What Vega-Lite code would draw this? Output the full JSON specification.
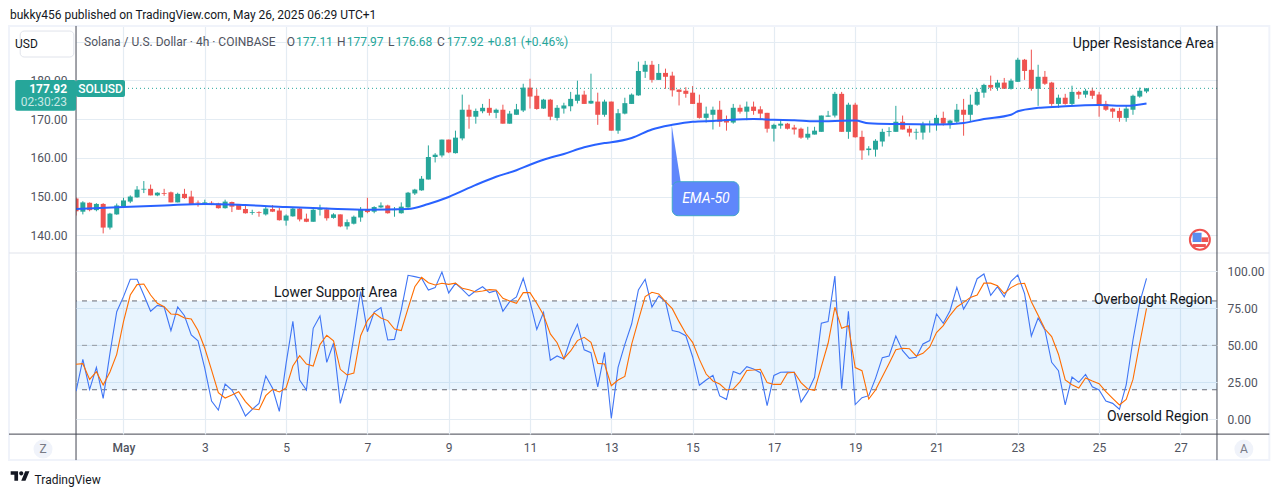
{
  "$schema": "https://vega.github.io/schema/vega-lite/v6.json",
  "description": "SOLUSD 4h candles with EMA-50 and Stochastic RSI, TradingView style",
  "padding": {"left": 8, "top": 8, "right": 10, "bottom": 8},
  "background": "white",
  "config": {
    "font": "Roboto",
    "view": {"stroke": null},
    "axis": {"title": null, "gridColor": "#e4ecf3", "gridWidth": 1.2, "labelColor": "#50535e", "labelFont": "Roboto", "labelFontSize": 12}
  },
  "datasets": {
    "bars": [
      {"t":"2025-04-29T20:00Z","o":149.5,"h":149.8,"l":145.1,"c":146.2,"k":19,"d":37.2},
      {"t":"2025-04-30T00:00Z","o":146.1,"h":148.8,"l":145.4,"c":148.5,"k":40.5,"d":37.6},
      {"t":"2025-04-30T04:00Z","o":148.4,"h":148.5,"l":146.2,"c":146.5,"k":20.3,"d":27},
      {"t":"2025-04-30T08:00Z","o":146.5,"h":148.3,"l":146.2,"c":148.1,"k":35.1,"d":32.2},
      {"t":"2025-04-30T12:00Z","o":148.1,"h":148.3,"l":140.5,"c":142,"k":14.2,"d":23.2},
      {"t":"2025-04-30T16:00Z","o":142,"h":145.8,"l":141.5,"c":145.6,"k":44.6,"d":32},
      {"t":"2025-04-30T20:00Z","o":145.4,"h":148.2,"l":145.3,"c":147.7,"k":72.7,"d":43.9},
      {"t":"2025-05-01T00:00Z","o":147.5,"h":149.7,"l":147.4,"c":149,"k":82.9,"d":66},
      {"t":"2025-05-01T04:00Z","o":148.7,"h":150.3,"l":148.3,"c":150,"k":94.6,"d":84},
      {"t":"2025-05-01T08:00Z","o":149.8,"h":152.7,"l":149.7,"c":151.8,"k":94.6,"d":91},
      {"t":"2025-05-01T12:00Z","o":151.8,"h":154,"l":150.9,"c":152,"k":84,"d":91.4},
      {"t":"2025-05-01T16:00Z","o":152,"h":153.1,"l":150.3,"c":150.3,"k":73,"d":84},
      {"t":"2025-05-01T20:00Z","o":150.3,"h":151.1,"l":150.1,"c":151,"k":77,"d":78.4},
      {"t":"2025-05-02T00:00Z","o":150.9,"h":152,"l":150.2,"c":150.7,"k":75.9,"d":76.1},
      {"t":"2025-05-02T04:00Z","o":151.1,"h":151.3,"l":148.5,"c":148.5,"k":59.9,"d":71.2},
      {"t":"2025-05-02T08:00Z","o":148.5,"h":151,"l":148.5,"c":150.7,"k":76,"d":70.9},
      {"t":"2025-05-02T12:00Z","o":150.7,"h":152,"l":149.4,"c":149.6,"k":70,"d":68.5},
      {"t":"2025-05-02T16:00Z","o":150,"h":151.5,"l":147.9,"c":147.9,"k":57,"d":67.8},
      {"t":"2025-05-02T20:00Z","o":148.5,"h":149,"l":147.4,"c":148.4,"k":53,"d":60},
      {"t":"2025-05-03T00:00Z","o":148.2,"h":149.2,"l":147.8,"c":148.5,"k":34.5,"d":48},
      {"t":"2025-05-03T04:00Z","o":148.4,"h":148.8,"l":147.8,"c":148.3,"k":12.4,"d":33.3},
      {"t":"2025-05-03T08:00Z","o":148.2,"h":148.4,"l":146.9,"c":147,"k":6.3,"d":18},
      {"t":"2025-05-03T12:00Z","o":147,"h":149.2,"l":146.9,"c":148.7,"k":23.9,"d":14.4},
      {"t":"2025-05-03T16:00Z","o":148.6,"h":148.7,"l":146,"c":147.4,"k":19.8,"d":16.4},
      {"t":"2025-05-03T20:00Z","o":147.9,"h":148,"l":146.6,"c":146.6,"k":12,"d":18.7},
      {"t":"2025-05-04T00:00Z","o":146.8,"h":147.7,"l":145.6,"c":145.7,"k":2.3,"d":12},
      {"t":"2025-05-04T04:00Z","o":145.8,"h":146.6,"l":145.3,"c":146,"k":6.8,"d":7.2},
      {"t":"2025-05-04T08:00Z","o":146,"h":146.2,"l":144.8,"c":145.8,"k":10.8,"d":6.5},
      {"t":"2025-05-04T12:00Z","o":145.4,"h":147.5,"l":145.1,"c":146.9,"k":29.3,"d":16},
      {"t":"2025-05-04T16:00Z","o":146.8,"h":147.8,"l":146,"c":146.1,"k":21,"d":20.3},
      {"t":"2025-05-04T20:00Z","o":146.4,"h":147.1,"l":143.8,"c":143.9,"k":5.4,"d":18.5},
      {"t":"2025-05-05T00:00Z","o":143.8,"h":145.4,"l":142.5,"c":145.1,"k":37.8,"d":21.2},
      {"t":"2025-05-05T04:00Z","o":144.9,"h":147.3,"l":144.8,"c":146.9,"k":66.2,"d":36},
      {"t":"2025-05-05T08:00Z","o":146.9,"h":147.2,"l":143.6,"c":144.1,"k":26.6,"d":43},
      {"t":"2025-05-05T12:00Z","o":144.3,"h":145.6,"l":143.4,"c":143.5,"k":19.8,"d":37.4},
      {"t":"2025-05-05T16:00Z","o":143.5,"h":146.8,"l":143.5,"c":146.6,"k":61.5,"d":36},
      {"t":"2025-05-05T20:00Z","o":146.6,"h":147.9,"l":145.1,"c":146.8,"k":69.8,"d":50.5},
      {"t":"2025-05-06T00:00Z","o":146.7,"h":147.1,"l":143.8,"c":144.4,"k":38.5,"d":56.8},
      {"t":"2025-05-06T04:00Z","o":144.5,"h":145.7,"l":144.3,"c":145.4,"k":51.4,"d":53},
      {"t":"2025-05-06T08:00Z","o":145.4,"h":145.4,"l":142.1,"c":142.3,"k":10.8,"d":33.8},
      {"t":"2025-05-06T12:00Z","o":142.3,"h":144.1,"l":141.5,"c":143.4,"k":27.7,"d":30},
      {"t":"2025-05-06T16:00Z","o":143,"h":145.1,"l":142.8,"c":144.8,"k":55.9,"d":31.3},
      {"t":"2025-05-06T20:00Z","o":144.6,"h":147.3,"l":143.5,"c":146.8,"k":86.3,"d":56.5},
      {"t":"2025-05-07T00:00Z","o":146.8,"h":149.7,"l":145.7,"c":146,"k":59.2,"d":66.7},
      {"t":"2025-05-07T04:00Z","o":146.1,"h":147.5,"l":145.7,"c":147.3,"k":72.5,"d":71.8},
      {"t":"2025-05-07T08:00Z","o":147.2,"h":148.5,"l":147,"c":147.7,"k":75.5,"d":68.5},
      {"t":"2025-05-07T12:00Z","o":147.7,"h":147.9,"l":145.6,"c":145.7,"k":53.6,"d":66.7},
      {"t":"2025-05-07T16:00Z","o":146.5,"h":147.3,"l":144.8,"c":146.7,"k":54,"d":61},
      {"t":"2025-05-07T20:00Z","o":145.7,"h":148.5,"l":145.6,"c":147.4,"k":73.9,"d":60},
      {"t":"2025-05-08T00:00Z","o":147.2,"h":151.2,"l":147.1,"c":151,"k":97.3,"d":75},
      {"t":"2025-05-08T04:00Z","o":150.8,"h":152,"l":150.4,"c":151.8,"k":96.4,"d":89.6},
      {"t":"2025-05-08T08:00Z","o":151.6,"h":155.3,"l":151.5,"c":154.6,"k":95.3,"d":95.9},
      {"t":"2025-05-08T12:00Z","o":154.4,"h":163.2,"l":154.4,"c":160.2,"k":87.4,"d":92.3},
      {"t":"2025-05-08T16:00Z","o":160.2,"h":161.2,"l":158.8,"c":160.8,"k":89,"d":90.8},
      {"t":"2025-05-08T20:00Z","o":160.6,"h":164.7,"l":160.1,"c":164.7,"k":99.5,"d":91.9},
      {"t":"2025-05-09T00:00Z","o":164.7,"h":164.7,"l":161.2,"c":161.4,"k":85.4,"d":91.2},
      {"t":"2025-05-09T04:00Z","o":161.2,"h":167,"l":161.1,"c":165.2,"k":91.9,"d":92},
      {"t":"2025-05-09T08:00Z","o":165,"h":176.3,"l":164.5,"c":172.4,"k":87.8,"d":88.5},
      {"t":"2025-05-09T12:00Z","o":172.4,"h":173.7,"l":167.5,"c":170.6,"k":83.3,"d":87.6},
      {"t":"2025-05-09T16:00Z","o":170.6,"h":172.7,"l":168.8,"c":172.1,"k":86.9,"d":86},
      {"t":"2025-05-09T20:00Z","o":172,"h":173.9,"l":171.5,"c":172.9,"k":89.6,"d":86.7},
      {"t":"2025-05-10T00:00Z","o":172.9,"h":175.2,"l":170.9,"c":171.6,"k":85.6,"d":87.6},
      {"t":"2025-05-10T04:00Z","o":171.6,"h":172.7,"l":170.2,"c":172.4,"k":86.9,"d":87.4},
      {"t":"2025-05-10T08:00Z","o":172.4,"h":173.7,"l":168.8,"c":168.8,"k":73,"d":81.8},
      {"t":"2025-05-10T12:00Z","o":168.8,"h":172.1,"l":168.8,"c":171.4,"k":79.5,"d":79.9},
      {"t":"2025-05-10T16:00Z","o":171.1,"h":173.9,"l":171.1,"c":172.5,"k":82.7,"d":78.4},
      {"t":"2025-05-10T20:00Z","o":172.2,"h":179.1,"l":171.8,"c":178.1,"k":95.3,"d":85.6},
      {"t":"2025-05-11T00:00Z","o":178.1,"h":180.4,"l":172.7,"c":175.8,"k":79.5,"d":85.6},
      {"t":"2025-05-11T04:00Z","o":176,"h":177.7,"l":172.4,"c":172.6,"k":60.8,"d":78.4},
      {"t":"2025-05-11T08:00Z","o":172.7,"h":175.2,"l":172.6,"c":175,"k":72.3,"d":70.5},
      {"t":"2025-05-11T12:00Z","o":175,"h":175.2,"l":169.7,"c":170.6,"k":39.9,"d":57.7},
      {"t":"2025-05-11T16:00Z","o":170.3,"h":173.6,"l":169.6,"c":172.9,"k":42.8,"d":51.8},
      {"t":"2025-05-11T20:00Z","o":172.7,"h":174.2,"l":171.4,"c":173.5,"k":40.8,"d":41},
      {"t":"2025-05-12T00:00Z","o":173.3,"h":177,"l":172,"c":175.2,"k":54.3,"d":46.2},
      {"t":"2025-05-12T04:00Z","o":174.7,"h":179.9,"l":174,"c":176.3,"k":64.2,"d":53.2},
      {"t":"2025-05-12T08:00Z","o":176.3,"h":177.3,"l":173.9,"c":173.9,"k":47,"d":55.4},
      {"t":"2025-05-12T12:00Z","o":174,"h":181.7,"l":173.9,"c":174.7,"k":45,"d":52},
      {"t":"2025-05-12T16:00Z","o":174.5,"h":176.8,"l":168.5,"c":171.1,"k":22,"d":37.8},
      {"t":"2025-05-12T20:00Z","o":171.1,"h":175,"l":170.6,"c":174.5,"k":45.3,"d":37.4},
      {"t":"2025-05-13T00:00Z","o":174.5,"h":174.5,"l":167,"c":167,"k":0.7,"d":22.7},
      {"t":"2025-05-13T04:00Z","o":167,"h":172.6,"l":166.2,"c":171.5,"k":35.1,"d":26.6},
      {"t":"2025-05-13T08:00Z","o":171.4,"h":175.5,"l":171.2,"c":174.1,"k":50.7,"d":29},
      {"t":"2025-05-13T12:00Z","o":173.9,"h":176.6,"l":173.9,"c":176.3,"k":64.4,"d":50.7},
      {"t":"2025-05-13T16:00Z","o":176.1,"h":184.8,"l":176,"c":182.4,"k":87.4,"d":67},
      {"t":"2025-05-13T20:00Z","o":182.2,"h":185,"l":180.6,"c":184,"k":94.6,"d":82.9},
      {"t":"2025-05-14T00:00Z","o":184,"h":185,"l":179.4,"c":180.1,"k":75.9,"d":85.8},
      {"t":"2025-05-14T04:00Z","o":180.1,"h":184.2,"l":180.1,"c":181.9,"k":83.3,"d":84.7},
      {"t":"2025-05-14T08:00Z","o":181.9,"h":183,"l":177.8,"c":180.9,"k":79.5,"d":79.5},
      {"t":"2025-05-14T12:00Z","o":181.2,"h":182.2,"l":175.8,"c":177.4,"k":60,"d":74.8},
      {"t":"2025-05-14T16:00Z","o":177.6,"h":177.6,"l":173.5,"c":177,"k":59,"d":66},
      {"t":"2025-05-14T20:00Z","o":177.3,"h":178.2,"l":175.5,"c":176.5,"k":56.5,"d":58},
      {"t":"2025-05-15T00:00Z","o":176.8,"h":178.5,"l":173.9,"c":173.9,"k":42.3,"d":52},
      {"t":"2025-05-15T04:00Z","o":174.2,"h":176.3,"l":170.1,"c":170.3,"k":23,"d":40.5},
      {"t":"2025-05-15T08:00Z","o":170.3,"h":173.2,"l":169.1,"c":171.4,"k":26.6,"d":30.6},
      {"t":"2025-05-15T12:00Z","o":171.1,"h":173.2,"l":167.3,"c":172.4,"k":29.7,"d":25.9},
      {"t":"2025-05-15T16:00Z","o":172.4,"h":174.7,"l":168,"c":169.3,"k":15.8,"d":23.9},
      {"t":"2025-05-15T20:00Z","o":170,"h":170.9,"l":167,"c":169.1,"k":13.5,"d":19.8},
      {"t":"2025-05-16T00:00Z","o":169.1,"h":173.9,"l":168.8,"c":172.9,"k":32.4,"d":20.5},
      {"t":"2025-05-16T04:00Z","o":172.9,"h":173.7,"l":171.4,"c":171.9,"k":30.6,"d":25.5},
      {"t":"2025-05-16T08:00Z","o":171.9,"h":174.5,"l":169.7,"c":173.2,"k":35.6,"d":33},
      {"t":"2025-05-16T12:00Z","o":173.2,"h":174.5,"l":171.1,"c":172.1,"k":34,"d":33.3},
      {"t":"2025-05-16T16:00Z","o":172.5,"h":173.3,"l":170.1,"c":171.4,"k":31.5,"d":33.8},
      {"t":"2025-05-16T20:00Z","o":171.6,"h":171.6,"l":166.5,"c":167.5,"k":9.2,"d":24.8},
      {"t":"2025-05-17T00:00Z","o":167.5,"h":168.8,"l":164.2,"c":168.5,"k":29.7,"d":23.6},
      {"t":"2025-05-17T04:00Z","o":168.3,"h":170,"l":167.5,"c":168.8,"k":31.8,"d":23.6},
      {"t":"2025-05-17T08:00Z","o":168.8,"h":169,"l":167.3,"c":167.5,"k":32,"d":31.3},
      {"t":"2025-05-17T12:00Z","o":167.8,"h":168.5,"l":166,"c":167.3,"k":31.8,"d":31.8},
      {"t":"2025-05-17T16:00Z","o":167.5,"h":167.8,"l":164.9,"c":165.2,"k":11.7,"d":24.8},
      {"t":"2025-05-17T20:00Z","o":165.2,"h":168,"l":164.7,"c":166.2,"k":18.7,"d":20.5},
      {"t":"2025-05-18T00:00Z","o":166,"h":168,"l":166,"c":167,"k":28.4,"d":19.6},
      {"t":"2025-05-18T04:00Z","o":166.7,"h":170.9,"l":166.7,"c":170.9,"k":65,"d":35.6},
      {"t":"2025-05-18T08:00Z","o":170.6,"h":172.1,"l":170.6,"c":170.9,"k":66,"d":51.4},
      {"t":"2025-05-18T12:00Z","o":170.9,"h":177,"l":170.4,"c":176.5,"k":96.8,"d":75.7},
      {"t":"2025-05-18T16:00Z","o":176.5,"h":177,"l":166.7,"c":166.7,"k":20.7,"d":61.5},
      {"t":"2025-05-18T20:00Z","o":166.7,"h":174.2,"l":164.9,"c":173.7,"k":73,"d":63.3},
      {"t":"2025-05-19T00:00Z","o":173.7,"h":174.2,"l":165.2,"c":165.3,"k":10,"d":35},
      {"t":"2025-05-19T04:00Z","o":165.4,"h":167,"l":159.5,"c":161.9,"k":14.6,"d":32.9},
      {"t":"2025-05-19T08:00Z","o":162,"h":163,"l":160.6,"c":162.4,"k":16,"d":13.7},
      {"t":"2025-05-19T12:00Z","o":162.1,"h":164.8,"l":160.3,"c":164.4,"k":27.7,"d":19.8},
      {"t":"2025-05-19T16:00Z","o":164.2,"h":167.5,"l":162.9,"c":166.7,"k":41.7,"d":28.8},
      {"t":"2025-05-19T20:00Z","o":166.7,"h":167.9,"l":165.5,"c":166.9,"k":42.8,"d":37.8},
      {"t":"2025-05-20T00:00Z","o":166.7,"h":173.4,"l":166.7,"c":169.3,"k":56.3,"d":47},
      {"t":"2025-05-20T04:00Z","o":169.3,"h":170.9,"l":167.3,"c":167.3,"k":46.4,"d":48},
      {"t":"2025-05-20T08:00Z","o":167.5,"h":168.3,"l":165.5,"c":166.5,"k":41.2,"d":47.7},
      {"t":"2025-05-20T12:00Z","o":166.5,"h":167.5,"l":164.7,"c":166.7,"k":41.9,"d":42.8},
      {"t":"2025-05-20T16:00Z","o":166.5,"h":169.3,"l":164.7,"c":168.5,"k":50.9,"d":44.6},
      {"t":"2025-05-20T20:00Z","o":168.5,"h":169.6,"l":166.5,"c":168.7,"k":53.2,"d":48.9},
      {"t":"2025-05-21T00:00Z","o":168.5,"h":171.1,"l":167,"c":170.3,"k":71.2,"d":58.6},
      {"t":"2025-05-21T04:00Z","o":170.3,"h":171.9,"l":168.3,"c":168.8,"k":64.9,"d":63.3},
      {"t":"2025-05-21T08:00Z","o":168.7,"h":169.8,"l":167.5,"c":169.6,"k":73.4,"d":70.3},
      {"t":"2025-05-21T12:00Z","o":169.3,"h":173.9,"l":168.8,"c":172.4,"k":89.2,"d":75.9},
      {"t":"2025-05-21T16:00Z","o":172.4,"h":175.2,"l":165.7,"c":171.1,"k":74.5,"d":79},
      {"t":"2025-05-21T20:00Z","o":171.1,"h":176.3,"l":169.3,"c":173.7,"k":82.2,"d":82.4},
      {"t":"2025-05-22T00:00Z","o":173.7,"h":177.8,"l":173.4,"c":177,"k":95,"d":84},
      {"t":"2025-05-22T04:00Z","o":176.8,"h":179.1,"l":175.5,"c":178.8,"k":98.2,"d":92},
      {"t":"2025-05-22T08:00Z","o":178.8,"h":181.2,"l":177.3,"c":178.1,"k":83.8,"d":92},
      {"t":"2025-05-22T12:00Z","o":178.1,"h":180.1,"l":177.3,"c":179.4,"k":89.6,"d":90.3},
      {"t":"2025-05-22T16:00Z","o":179.4,"h":180.6,"l":177.8,"c":177.8,"k":82.7,"d":85},
      {"t":"2025-05-22T20:00Z","o":177.8,"h":180.4,"l":177.6,"c":179.9,"k":93.2,"d":89},
      {"t":"2025-05-23T00:00Z","o":179.6,"h":185.8,"l":179.6,"c":185.3,"k":97.5,"d":91.4},
      {"t":"2025-05-23T04:00Z","o":185.3,"h":185.5,"l":180.1,"c":182.4,"k":85,"d":91.9},
      {"t":"2025-05-23T08:00Z","o":182.7,"h":187.9,"l":177.3,"c":177.8,"k":56.3,"d":79.5},
      {"t":"2025-05-23T12:00Z","o":177.8,"h":184,"l":173.4,"c":180.9,"k":68.5,"d":70.3},
      {"t":"2025-05-23T16:00Z","o":180.9,"h":182.4,"l":178.8,"c":179.1,"k":60.4,"d":61},
      {"t":"2025-05-23T20:00Z","o":179.4,"h":179.6,"l":173.4,"c":173.9,"k":38.5,"d":55.9},
      {"t":"2025-05-24T00:00Z","o":173.9,"h":176.3,"l":172.9,"c":175.5,"k":32.9,"d":44},
      {"t":"2025-05-24T04:00Z","o":175.5,"h":176.5,"l":173.7,"c":173.9,"k":9.7,"d":26.6},
      {"t":"2025-05-24T08:00Z","o":173.9,"h":178.6,"l":173.4,"c":177,"k":28.6,"d":23.4},
      {"t":"2025-05-24T12:00Z","o":177,"h":177.3,"l":175.2,"c":176.3,"k":25,"d":21.2},
      {"t":"2025-05-24T16:00Z","o":176.3,"h":177.8,"l":175.5,"c":177.3,"k":30.4,"d":27.9},
      {"t":"2025-05-24T20:00Z","o":177.3,"h":178.1,"l":175.2,"c":176,"k":22,"d":25.9},
      {"t":"2025-05-25T00:00Z","o":176.3,"h":177,"l":170.6,"c":173.7,"k":19.8,"d":24.1},
      {"t":"2025-05-25T04:00Z","o":173.9,"h":174.7,"l":172.1,"c":172.4,"k":12.4,"d":18.7},
      {"t":"2025-05-25T08:00Z","o":172.7,"h":172.9,"l":170.3,"c":171.9,"k":10.8,"d":14.2},
      {"t":"2025-05-25T12:00Z","o":172.1,"h":172.9,"l":169.3,"c":170.3,"k":6.8,"d":9.7},
      {"t":"2025-05-25T16:00Z","o":170.3,"h":173.4,"l":169.3,"c":172.7,"k":23.2,"d":13.5},
      {"t":"2025-05-25T20:00Z","o":172.4,"h":176.3,"l":171.1,"c":176,"k":53.6,"d":27},
      {"t":"2025-05-26T00:00Z","o":175.8,"h":178.1,"l":175.5,"c":177.3,"k":79,"d":51.4},
      {"t":"2025-05-26T04:00Z","o":177.11,"h":177.97,"l":176.68,"c":177.92,"k":95.3,"d":75}
    ],
    "ema": [
      {"t":"2025-04-29T20:00Z","v":146.8},{"t":"2025-05-01T00:00Z","v":147.3},{"t":"2025-05-02T00:00Z","v":147.7},
      {"t":"2025-05-03T00:00Z","v":148.1},{"t":"2025-05-04T00:00Z","v":147.8},{"t":"2025-05-05T00:00Z","v":147.3},
      {"t":"2025-05-06T00:00Z","v":146.9},{"t":"2025-05-07T00:00Z","v":146.6},{"t":"2025-05-08T00:00Z","v":146.8},
      {"t":"2025-05-08T12:00Z","v":148.1},{"t":"2025-05-09T00:00Z","v":149.9},{"t":"2025-05-09T16:00Z","v":153},
      {"t":"2025-05-10T04:00Z","v":155.1},{"t":"2025-05-10T16:00Z","v":156.8},{"t":"2025-05-11T00:00Z","v":158.2},
      {"t":"2025-05-11T08:00Z","v":159.5},{"t":"2025-05-11T20:00Z","v":161},{"t":"2025-05-12T08:00Z","v":162.7},
      {"t":"2025-05-12T20:00Z","v":163.8},{"t":"2025-05-13T00:00Z","v":164},{"t":"2025-05-13T12:00Z","v":165.1},
      {"t":"2025-05-14T00:00Z","v":167.3},{"t":"2025-05-14T12:00Z","v":168.5},{"t":"2025-05-15T00:00Z","v":169.3},
      {"t":"2025-05-15T12:00Z","v":169.5},{"t":"2025-05-16T12:00Z","v":170},{"t":"2025-05-17T00:00Z","v":169.8},
      {"t":"2025-05-17T12:00Z","v":169.7},{"t":"2025-05-18T00:00Z","v":169.4},{"t":"2025-05-19T00:00Z","v":169.6},
      {"t":"2025-05-19T08:00Z","v":168.9},{"t":"2025-05-20T00:00Z","v":168.7},{"t":"2025-05-21T00:00Z","v":168.6},
      {"t":"2025-05-21T16:00Z","v":169},{"t":"2025-05-22T04:00Z","v":170},{"t":"2025-05-22T20:00Z","v":171.1},
      {"t":"2025-05-23T00:00Z","v":172},{"t":"2025-05-23T12:00Z","v":172.9},{"t":"2025-05-24T00:00Z","v":173.2},
      {"t":"2025-05-25T00:00Z","v":173.6},{"t":"2025-05-25T16:00Z","v":173.4},{"t":"2025-05-26T04:00Z","v":174}
    ]
  },
  "bounds": "flush",
  "spacing": 2,
  "vconcat": [
    {
      "width": 1141,
      "height": 226,
      "layer": [
        {
          "data": {"name": "bars"},
          "mark": {"type": "rule", "clip": true, "strokeWidth": 1},
          "encoding": {
            "x": {"field": "t", "type": "temporal",
              "scale": {"type": "utc", "domain": [1745956641600, 1748381794560], "padding": 0},
              "axis": {"values": [1746057600000,1746230400000,1746403200000,1746576000000,1746748800000,1746921600000,1747094400000,1747267200000,1747440000000,1747612800000,1747785600000,1747958400000,1748131200000,1748304000000], "grid": true, "labels": false, "ticks": false, "domain": false}},
            "y": {"field": "l", "type": "quantitative",
              "scale": {"domain": [135.7, 194], "nice": false, "zero": false},
              "axis": {"orient": "left", "values": [140,150,160,170,180,190], "grid": true, "ticks": false, "domain": false, "labelPadding": 9, "labelExpr": "datum.value > 180 ? '' : format(datum.value, '.2f')"}},
            "y2": {"field": "h"},
            "color": {"condition": {"test": "datum.c < datum.o", "value": "#ef5350"}, "value": "#26a69a"}
          }
        },
        {
          "data": {"name": "bars"},
          "mark": {"type": "bar", "clip": true, "size": 5},
          "encoding": {
            "x": {"field": "t", "type": "temporal"},
            "y": {"field": "o", "type": "quantitative"},
            "y2": {"field": "c"},
            "color": {"condition": {"test": "datum.c < datum.o", "value": "#ef5350"}, "value": "#26a69a"}
          }
        },
        {
          "data": {"name": "ema"},
          "mark": {"type": "line", "clip": true, "color": "#2962ff", "strokeWidth": 2, "interpolate": "monotone"},
          "encoding": {
            "x": {"field": "t", "type": "temporal"},
            "y": {"field": "v", "type": "quantitative"}
          }
        },
        {
          "data": {"values": [{"last": 177.92}]},
          "mark": {"type": "rule", "color": "#26a69a", "strokeDash": [1, 3], "strokeWidth": 1},
          "encoding": {"y": {"field": "last", "type": "quantitative"}}
        },
        {
          "data": {"values": [{"t": "2025-04-28T04:24Z", "t2": "2025-05-29T04:31Z", "p": 194.01, "p2": 82.02}], "format": {"parse": {"t": "date", "t2": "date"}}},
          "mark": {"type": "rect", "fill": null, "stroke": "#f0f3fa", "strokeWidth": 2},
          "encoding": {
            "x": {"field": "t", "type": "temporal"}, "x2": {"field": "t2"},
            "y": {"field": "p", "type": "quantitative"}, "y2": {"field": "p2"}
          }
        },
        {
          "data": {"values": [{"t": "2025-04-28T04:24Z", "t2": "2025-05-29T04:31Z", "p": 135.44}], "format": {"parse": {"t": "date", "t2": "date"}}},
          "mark": {"type": "rule", "color": "#e0e3eb", "strokeWidth": 1},
          "encoding": {
            "x": {"field": "t", "type": "temporal"}, "x2": {"field": "t2"},
            "y": {"field": "p", "type": "quantitative"}
          }
        },
        {
          "data": {"values": [{"t": "2025-04-28T04:24Z", "t2": "2025-05-29T04:31Z", "p": 88.72}], "format": {"parse": {"t": "date", "t2": "date"}}},
          "mark": {"type": "rule", "color": "#434651", "strokeWidth": 1},
          "encoding": {
            "x": {"field": "t", "type": "temporal"}, "x2": {"field": "t2"},
            "y": {"field": "p", "type": "quantitative"}
          }
        },
        {
          "data": {"values": [{"t": "2025-04-29T19:58Z", "p": 194.01, "p2": 82.02}, {"t": "2025-05-27T21:36Z", "p": 194.01, "p2": 82.02}]},
          "mark": {"type": "rule", "color": "#434651", "strokeWidth": 1},
          "encoding": {
            "x": {"field": "t", "type": "temporal"},
            "y": {"field": "p", "type": "quantitative"}, "y2": {"field": "p2"}
          }
        },
        {
          "data": {"values": [{"t": "2025-04-28T08:03Z", "t2": "2025-04-29T19:58Z", "p": 180.08, "p2": 172.15}, {"t": "2025-04-29T19:58Z", "t2": "2025-05-01T00:53Z", "p": 180.08, "p2": 175.69}], "format": {"parse": {"t": "date", "t2": "date"}}},
          "mark": {"type": "rect", "fill": "#26a69a", "cornerRadius": 2},
          "encoding": {
            "x": {"field": "t", "type": "temporal"}, "x2": {"field": "t2"},
            "y": {"field": "p", "type": "quantitative"}, "y2": {"field": "p2"}
          }
        },
        {
          "data": {"values": [{"t": "2025-04-28T11:00Z", "t2": "2025-04-29T18:40Z", "p": 192.7, "p2": 186}], "format": {"parse": {"t": "date", "t2": "date"}}},
          "mark": {"type": "rect", "fill": "white", "stroke": "#e0e3eb", "cornerRadius": 4},
          "encoding": {
            "x": {"field": "t", "type": "temporal"}, "x2": {"field": "t2"},
            "y": {"field": "p", "type": "quantitative"}, "y2": {"field": "p2"}
          }
        },
        {
          "data": {"values": [{"t": "2025-05-14T11:40Z", "p": 168.47, "p2": 152.9}, {"t": "2025-05-14T16:56Z", "p": 153.83, "p2": 152.9}]},
          "mark": {"type": "area", "color": "#5f87fb"},
          "encoding": {
            "x": {"field": "t", "type": "temporal"},
            "y": {"field": "p", "type": "quantitative"}, "y2": {"field": "p2"}
          }
        },
        {
          "data": {"values": [{"t": "2025-05-14T11:59Z", "t2": "2025-05-16T03:21Z", "p": 153.83, "p2": 145.06}], "format": {"parse": {"t": "date", "t2": "date"}}},
          "mark": {"type": "rect", "fill": "#5f87fb", "stroke": "#3fa7c8", "cornerRadius": 6},
          "encoding": {
            "x": {"field": "t", "type": "temporal"}, "x2": {"field": "t2"},
            "y": {"field": "p", "type": "quantitative"}, "y2": {"field": "p2"}
          }
        },
        {
          "data": {"values": [{"t": "2025-05-15T07:52Z", "p": 149.5, "s": "EMA-50"}]},
          "mark": {"type": "text", "color": "white", "fontStyle": "italic", "fontSize": 14, "baseline": "middle", "align": "center"},
          "encoding": {
            "x": {"field": "t", "type": "temporal"}, "y": {"field": "p", "type": "quantitative"}, "text": {"field": "s"}
          }
        },
        {
          "data": {"values": [{"t": "2025-05-27T11:30Z", "p": 138.86}]},
          "mark": {"type": "point", "shape": "circle", "filled": true, "fill": "white", "stroke": "#ef5350", "strokeWidth": 2, "size": 400, "opacity": 1},
          "encoding": {"x": {"field": "t", "type": "temporal"}, "y": {"field": "p", "type": "quantitative"}}
        },
        {
          "data": {"values": [{"t": "2025-05-27T07:11Z", "t2": "2025-05-27T12:30Z", "p": 140.67, "p2": 138.27}], "format": {"parse": {"t": "date", "t2": "date"}}},
          "mark": {"type": "rect", "fill": "#5b8def"},
          "encoding": {
            "x": {"field": "t", "type": "temporal"}, "x2": {"field": "t2"},
            "y": {"field": "p", "type": "quantitative"}, "y2": {"field": "p2"}
          }
        },
        {
          "data": {"values": [{"t": "2025-05-27T12:30Z", "t2": "2025-05-27T16:24Z", "p": 139.48, "p2": 138.27}, {"t": "2025-05-27T07:22Z", "t2": "2025-05-27T15:02Z", "p": 137.75, "p2": 136.98}], "format": {"parse": {"t": "date", "t2": "date"}}},
          "mark": {"type": "rect", "fill": "#ef5350"},
          "encoding": {
            "x": {"field": "t", "type": "temporal"}, "x2": {"field": "t2"},
            "y": {"field": "p", "type": "quantitative"}, "y2": {"field": "p2"}
          }
        },
        {
          "data": {"values": [{"t": "2025-04-29T00:29Z", "p": 84.85}, {"t": "2025-05-28T13:28Z", "p": 84.85}]},
          "mark": {"type": "point", "shape": "circle", "filled": true, "fill": "#f0f3fa", "size": 361, "opacity": 1},
          "encoding": {"x": {"field": "t", "type": "temporal"}, "y": {"field": "p", "type": "quantitative"}}
        },
        {
          "data": {"values": [{"t": "2025-04-29T00:29Z", "p": 84.85, "s": "Z"}, {"t": "2025-05-28T13:28Z", "p": 84.85, "s": "A"}]},
          "mark": {"type": "text", "color": "#787b86", "fontSize": 12, "baseline": "middle", "align": "center"},
          "encoding": {"x": {"field": "t", "type": "temporal"}, "y": {"field": "p", "type": "quantitative"}, "text": {"field": "s"}}
        },
        {
          "data": {"values": [{"t": "2025-04-28T14:40Z", "p": 189.4, "s": "USD"}]},
          "mark": {"type": "text", "color": "#131722", "fontSize": 12, "baseline": "middle", "align": "center"},
          "encoding": {"x": {"field": "t", "type": "temporal"}, "y": {"field": "p", "type": "quantitative"}, "text": {"field": "s"}}
        },
        {
          "data": {"values": [{"t": "2025-04-28T05:00Z", "p": 196.85, "s": "bukky456 published on TradingView.com, May 26, 2025 06:29 UTC+1"}, {"t": "2025-04-28T19:30Z", "p": 76.85, "s": "TradingView"}]},
          "mark": {"type": "text", "color": "#131722", "fontSize": 12, "baseline": "middle", "align": "left"},
          "encoding": {"x": {"field": "t", "type": "temporal"}, "y": {"field": "p", "type": "quantitative"}, "text": {"field": "s"}}
        },
        {
          "data": {"values": [{"t": "2025-04-28T11:00Z", "p": 77.8}]},
          "mark": {"type": "point", "filled": true, "color": "#131722", "opacity": 1, "size": 361, "shape": "M-1,-.556 H-.222 V.444 H-.611 V-.167 H-1 Z M-.111,-.333 a.222,.222 0 1,0 .444,0 a.222,.222 0 1,0 -.444,0 Z M.556,.444 H.111 L.528,-.556 H.972 Z"},
          "encoding": {"x": {"field": "t", "type": "temporal"}, "y": {"field": "p", "type": "quantitative"}}
        },
        {
          "data": {"values": [
            {"t": "2025-04-30T00:41Z", "p": 189.86, "s": "Solana / U.S. Dollar · 4h · COINBASE"},
            {"t": "2025-05-05T00:20Z", "p": 189.86, "s": "O"},
            {"t": "2025-05-06T06:02Z", "p": 189.86, "s": "H"},
            {"t": "2025-05-07T12:09Z", "p": 189.86, "s": "L"},
            {"t": "2025-05-08T17:04Z", "p": 189.86, "s": "C"}
          ]},
          "mark": {"type": "text", "color": "#50535e", "fontSize": 12, "baseline": "middle", "align": "left"},
          "encoding": {"x": {"field": "t", "type": "temporal"}, "y": {"field": "p", "type": "quantitative"}, "text": {"field": "s"}}
        },
        {
          "data": {"values": [
            {"t": "2025-05-05T05:50Z", "p": 189.86, "s": "177.11"},
            {"t": "2025-05-06T11:46Z", "p": 189.86, "s": "177.97"},
            {"t": "2025-05-07T16:34Z", "p": 189.86, "s": "176.68"},
            {"t": "2025-05-08T22:48Z", "p": 189.86, "s": "177.92"},
            {"t": "2025-05-09T23:00Z", "p": 189.86, "s": "+0.81 (+0.46%)"}
          ]},
          "mark": {"type": "text", "color": "#26a69a", "fontSize": 12, "baseline": "middle", "align": "left"},
          "encoding": {"x": {"field": "t", "type": "temporal"}, "y": {"field": "p", "type": "quantitative"}, "text": {"field": "s"}}
        },
        {
          "data": {"values": [{"t": "2025-05-24T08:31Z", "p": 189.37, "s": "Upper Resistance Area"}]},
          "mark": {"type": "text", "color": "#131722", "fontSize": 14, "baseline": "middle", "align": "left"},
          "encoding": {"x": {"field": "t", "type": "temporal"}, "y": {"field": "p", "type": "quantitative"}, "text": {"field": "s"}}
        },
        {
          "data": {"values": [{"t": "2025-04-29T14:40Z", "p": 177.86, "s": "177.92"}]},
          "mark": {"type": "text", "color": "white", "fontSize": 12, "fontWeight": "bold", "baseline": "middle", "align": "right"},
          "encoding": {"x": {"field": "t", "type": "temporal"}, "y": {"field": "p", "type": "quantitative"}, "text": {"field": "s"}}
        },
        {
          "data": {"values": [{"t": "2025-04-29T14:40Z", "p": 174.27, "s": "02:30:23"}]},
          "mark": {"type": "text", "color": "#c8e8e4", "fontSize": 12, "baseline": "middle", "align": "right"},
          "encoding": {"x": {"field": "t", "type": "temporal"}, "y": {"field": "p", "type": "quantitative"}, "text": {"field": "s"}}
        },
        {
          "data": {"values": [{"t": "2025-04-30T10:25Z", "p": 177.86, "s": "SOLUSD"}]},
          "mark": {"type": "text", "color": "white", "fontSize": 12, "fontWeight": 500, "baseline": "middle", "align": "center"},
          "encoding": {"x": {"field": "t", "type": "temporal"}, "y": {"field": "p", "type": "quantitative"}, "text": {"field": "s"}}
        }
      ]
    },
    {
      "width": 1141,
      "height": 180,
      "layer": [
        {
          "data": {"values": [{"a": 80, "b": 20}]},
          "mark": {"type": "rect", "fill": "#2196f3", "opacity": 0.1},
          "encoding": {
            "y": {"field": "a", "type": "quantitative",
              "scale": {"domain": [-9.9, 111.7], "nice": false, "zero": false},
              "axis": {"orient": "right", "values": [0,25,50,75,100], "format": ".2f", "grid": true, "ticks": false, "domain": false, "labelPadding": 10}},
            "y2": {"field": "b"}
          }
        },
        {
          "data": {"values": [{"v": 80}, {"v": 50}, {"v": 20}]},
          "mark": {"type": "rule", "strokeDash": [5, 5], "strokeWidth": 1},
          "encoding": {
            "y": {"field": "v", "type": "quantitative"},
            "color": {"condition": {"test": "datum.v == 50", "value": "#9598a1"}, "value": "#696c76"}
          }
        },
        {
          "data": {"name": "bars"},
          "mark": {"type": "line", "clip": true, "color": "#3f75f5", "strokeWidth": 1.1},
          "encoding": {
            "x": {"field": "t", "type": "temporal",
              "scale": {"type": "utc", "domain": [1745956641600, 1748381794560]},
              "axis": {"values": [1746057600000,1746230400000,1746403200000,1746576000000,1746748800000,1746921600000,1747094400000,1747267200000,1747440000000,1747612800000,1747785600000,1747958400000,1748131200000,1748304000000], "grid": true, "ticks": false, "domain": false, "labelPadding": 8, "labelFlush": false, "labelOverlap": false,
                "labelExpr": "utcdate(datum.value) == 1 ? 'May' : '' + utcdate(datum.value)",
                "labelFontWeight": {"condition": {"test": "utcdate(datum.value) == 1", "value": 500}, "value": 400}}},
            "y": {"field": "k", "type": "quantitative"}
          }
        },
        {
          "data": {"name": "bars"},
          "mark": {"type": "line", "clip": true, "color": "#ff6d00", "strokeWidth": 1.1},
          "encoding": {
            "x": {"field": "t", "type": "temporal"},
            "y": {"field": "d", "type": "quantitative"}
          }
        },
        {
          "data": {"values": [
            {"t": "2025-05-04T16:51Z", "p": 85.3, "s": "Lower Support Area"},
            {"t": "2025-05-24T20:55Z", "p": 80.6, "s": "Overbought Region"},
            {"t": "2025-05-25T04:36Z", "p": 1.55, "s": "Oversold Region"}
          ]},
          "mark": {"type": "text", "color": "#131722", "fontSize": 14, "baseline": "middle", "align": "left"},
          "encoding": {"x": {"field": "t", "type": "temporal"}, "y": {"field": "p", "type": "quantitative"}, "text": {"field": "s"}}
        }
      ]
    }
  ]
}
